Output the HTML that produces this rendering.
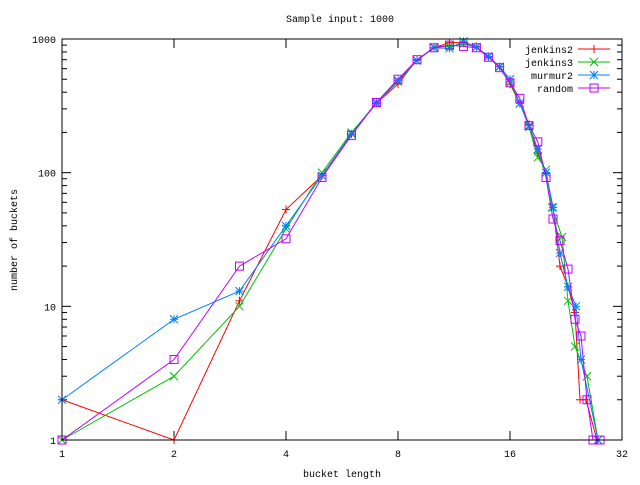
<!DOCTYPE html>
<html><head><style>
body{margin:0;background:#fff;}
svg text{font-family:"Liberation Mono",monospace;font-size:10px;fill:#000;}
</style></head><body>
<svg id="s" width="640" height="480" xmlns="http://www.w3.org/2000/svg">
<rect width="640" height="480" fill="#fff"/>
<text x="340" y="22" text-anchor="middle">Sample input: 1000</text>
<text x="342" y="477" text-anchor="middle">bucket length</text>
<text transform="translate(17,240) rotate(-90)" text-anchor="middle">number of buckets</text>
<g id="ax"></g>
<g id="plot"></g>
<rect x="62" y="39" width="560" height="401" fill="none" stroke="#000" stroke-width="1"/>
</svg>
<script>
var ns="http://www.w3.org/2000/svg";
function el(p,t,a,txt){var e=document.createElementNS(ns,t);for(var k in a)e.setAttribute(k,a[k]);if(txt)e.textContent=txt;p.appendChild(e);return e;}
var ax=document.getElementById('ax'),pl=document.getElementById('plot');
function Y(v){return 440-133.67*Math.log10(v);}
for(var d=0;d<3;d++){for(var m=1;m<10;m++){var v=m*Math.pow(10,d);var y=Y(v);var L=(m==1)?9:5;
el(ax,'line',{x1:62,x2:62+L,y1:y,y2:y,stroke:'#000'});el(ax,'line',{x1:622,x2:622-L,y1:y,y2:y,stroke:'#000'});}}
[['1',1],['10',10],['100',100],['1000',1000]].forEach(function(a){el(ax,'text',{x:56,y:Y(a[1])+4,'text-anchor':'end'},a[0]);});
[1,2,4,8,16,32].forEach(function(n,i){var x=62+112*i;el(ax,'line',{x1:x,x2:x,y1:440,y2:431,stroke:'#000'});el(ax,'line',{x1:x,x2:x,y1:39,y2:48,stroke:'#000'});el(ax,'text',{x:x,y:457,'text-anchor':'middle'},String(n));});
var X=[62,174,239.5,286,322,351.5,376.4,398,417,434,449.5,463.5,476.4,488.4,499.6,510,519.8,529,537.8,546];
function mk(vals,tail){var p=[];vals.forEach(function(v,i){p.push([X[i],Y(v)]);});tail.forEach(function(t){p.push([t[0],Y(t[1])]);});return p;}
var series=[
{n:'jenkins2',c:'#ff0000',k:'+',p:mk([2,1,11,53,95,195,330,460,700,860,940,940,880,730,620,460,330,230,140,100],[[553,55],[560,20],[568,14],[575,9],[580,2],[586,2],[597,1]])},
{n:'jenkins3',c:'#00c000',k:'x',p:mk([1,3,10,38,100,200,330,480,690,870,880,920,870,740,620,470,330,220,130,105],[[552,55],[562,33],[568,11],[575,5],[587,3],[598,1]])},
{n:'murmur2',c:'#0080ff',k:'*',p:mk([2,8,13,40,95,195,335,490,690,860,850,960,870,740,620,500,330,225,150,100],[[553,55],[560,25],[568,14],[576,10],[581,4],[598,1]])},
{n:'random',c:'#c000ff',k:'s',p:mk([1,4,20,32,92,190,335,500,700,860,900,880,860,730,610,470,360,225,170,92],[[553,45],[560,31],[568,19],[575,8],[581,6],[587,2],[593,1],[600,1]])}
];
function mark(g,k,x,y,c){var s=4,a={stroke:c,'stroke-width':1,fill:'none'};
if(k=='+'||k=='*'){el(g,'line',Object.assign({x1:x-s,x2:x+s,y1:y,y2:y},a));el(g,'line',Object.assign({x1:x,x2:x,y1:y-s,y2:y+s},a));}
if(k=='x'||k=='*'){el(g,'line',Object.assign({x1:x-s,x2:x+s,y1:y-s,y2:y+s},a));el(g,'line',Object.assign({x1:x-s,x2:x+s,y1:y+s,y2:y-s},a));}
if(k=='s'){el(g,'rect',Object.assign({x:x-4,y:y-4,width:8,height:8},a));}}
series.forEach(function(s,i){
el(pl,'polyline',{points:s.p.map(function(q){return q.join(',')}).join(' '),fill:'none',stroke:s.c,'stroke-width':1});
s.p.forEach(function(q){mark(pl,s.k,q[0],q[1],s.c);});
var ly=49+13*i;
el(pl,'text',{x:573,y:ly+4,'text-anchor':'end'},s.n);
el(pl,'line',{x1:578,x2:610,y1:ly,y2:ly,stroke:s.c});
mark(pl,s.k,594,ly,s.c);
});
</script>
</body></html>
